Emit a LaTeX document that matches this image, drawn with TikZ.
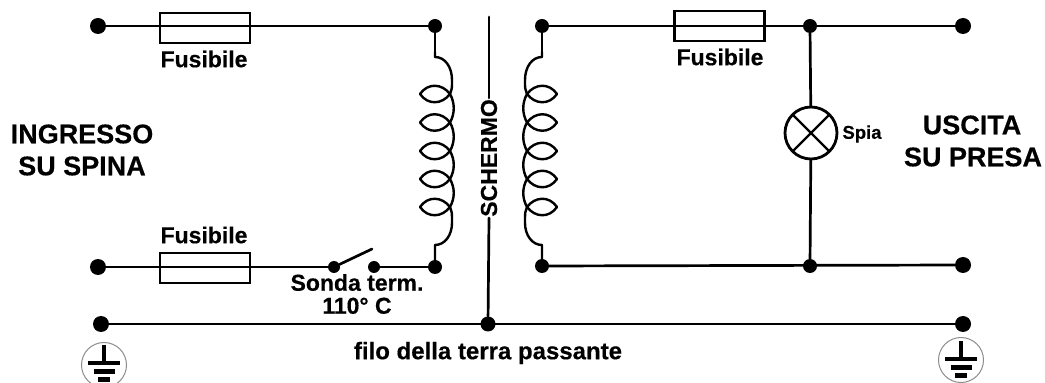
\documentclass[tikz,border=0pt]{standalone}
\usepackage{fontspec}
\setmainfont[BoldFeatures={FakeBold=0.4}]{Liberation Sans}
\tikzset{
  wire/.style={line width=2.7pt,line cap=round,line join=round},
  coilw/.style={line width=2.4pt,line join=round},
  fuse/.style={draw,line width=2.3pt,minimum width=90pt,minimum height=30pt,inner sep=0pt},
  dot/.style={circle,fill=black,inner sep=0pt,minimum size=16pt},
  dots/.style={circle,fill=black,inner sep=0pt,minimum size=14pt},
  lbl/.style={font=\bfseries\fontsize{23}{23}\selectfont,inner sep=0pt,text=black},
  big/.style={font=\bfseries\fontsize{27}{27}\selectfont,inner sep=0pt,text=black},
  gcirc/.style={circle,draw=black!45,line width=1pt,inner sep=0pt,minimum size=45pt},
  gbar/.style={line width=4.5pt}
}
\newcommand{\coilshape}{%
  \draw[coilw] (0,331) -- (0,326)
    .. controls (10,326) and (17,316) .. (17,303)
    -- (17,298);
  \foreach \y in {289,260.5,232,204,176}{
    \draw[coilw] (15,\y) .. controls (7,{\y+10.5}) and (-7,{\y+11.5}) .. (-15,\y)
      .. controls (-7,{\y-11.5}) and (7,{\y-10.5}) .. (15,\y);
  }
  \draw[coilw] (17,298) .. controls (17,295) .. (15,289);
  \foreach \y/\z in {289/260.5,260.5/232,232/204,204/176}{
    \draw[coilw] (15,\y) .. controls (20,{\y-9}) and (20,{\z+9}) .. (15,\z);
  }
  \draw[coilw] (15,176) .. controls (17,170) .. (17,166) -- (17,160)
    .. controls (17,148) and (10,138) .. (0,138) -- (0,120);
}
\begin{document}
\begin{tikzpicture}[x=1pt,y=1pt]
\useasboundingbox (0,0) rectangle (1045,383);
% terminals
\node[dot] (a1) at (98,357) {};
\node[dot] (a2) at (98,116) {};
\node[dot] (a3) at (101,59) {};
\node[dots] (b1) at (435,357) {};
\node[dots] (b2) at (435,116) {};
\node[dots] (c1) at (542,357) {};
\node[dots] (c2) at (542,117) {};
\node[dots] (d1) at (810,357) {};
\node[dots] (d2) at (810,117) {};
\node[dot] (e1) at (963,357) {};
\node[dot] (e2) at (963,118) {};
\node[dot] (e3) at (963,59) {};
\node[dots,minimum size=15pt] (g0) at (488,59) {};
\node[dots,minimum size=12pt] (s1) at (334,116) {};
\node[dots,minimum size=12pt] (s2) at (374,116) {};
\coordinate (s3) at (372,134);
\coordinate (sc) at (489,366);
% wires
\draw[wire] (a1) -- (b1);
\draw[wire] (a2) -- (s1);
\draw[wire] (s2) -- (b2);
\draw[wire] (s1) -- (s3);
\draw[wire] (a3) -- (e3);
\draw[wire] (c1) -- (e1);
\draw[wire] (c2) -- (e2);
\node[fuse] (f1) at (205,355) {};
\node[fuse] (f2) at (205,115) {};
\node[fuse] (f3) at (719.5,357) {};
% shield
\node[font=\bfseries\fontsize{23}{23}\selectfont,rotate=90,inner sep=0pt,inner xsep=1pt,text=black] (sch) at (489,225) {SCHERMO};
\draw[wire] (sc) -- (sch.east);
\draw[wire] (sch.west) -- (g0);
% lamp
\node[circle,draw,line width=2.8pt,inner sep=0pt,minimum size=52pt,path picture={
  \draw[line width=2.4pt] (path picture bounding box.south west) -- (path picture bounding box.north east);
  \draw[line width=2.4pt] (path picture bounding box.north west) -- (path picture bounding box.south east);
}] (l) at (811,250) {};
\draw[wire] (d1) -- (l);
\draw[wire] (l) -- (d2);
% coils
\begin{scope}[shift={(435,0)}]\coilshape\end{scope}
\begin{scope}[shift={(542,0)},xscale=-1]\coilshape\end{scope}
\draw[wire] (b1) -- (435,331);
\draw[wire] (c1) -- (542,331);
% labels
\node[lbl] (t1) at (204,324) {Fusibile};
\node[lbl] (t2) at (204,148) {Fusibile};
\node[lbl] (t3) at (720,326) {Fusibile};
\node[lbl,align=center,font=\bfseries\fontsize{23}{23}\selectfont] (t4) at (357,89) {Sonda term.\\110° C};
\node[lbl,font=\bfseries\fontsize{24}{24}\selectfont] (t5) at (488,30) {filo della terra passante};
\node[lbl,font=\bfseries\fontsize{18.5}{18.5}\selectfont] (t6) at (862,249) {Spia};
\node[big] (t7) at (82,249) {INGRESSO};
\node[big] (t8) at (82,217) {SU SPINA};
\node[big] (t9) at (972,258) {USCITA};
\node[big] (t10) at (973,226) {SU PRESA};
% earths
\node[gcirc] (g1) at (104,18) {};
\node[gcirc] (g2) at (961,23) {};
\coordinate (h1) at (104,20);
\coordinate (h2) at (961,24);
\foreach \g in {h1,h2}{
  \draw[line width=3.6pt] ([yshift=18pt]\g) -- (\g);
  \draw[gbar] ([xshift=-16pt]\g) -- ([xshift=16pt]\g);
  \draw[gbar] ([xshift=-10.5pt,yshift=-8.5pt]\g) -- ([xshift=10.5pt,yshift=-8.5pt]\g);
  \draw[gbar] ([xshift=-6pt,yshift=-16.5pt]\g) -- ([xshift=6pt,yshift=-16.5pt]\g);
}
\end{tikzpicture}
\end{document}
